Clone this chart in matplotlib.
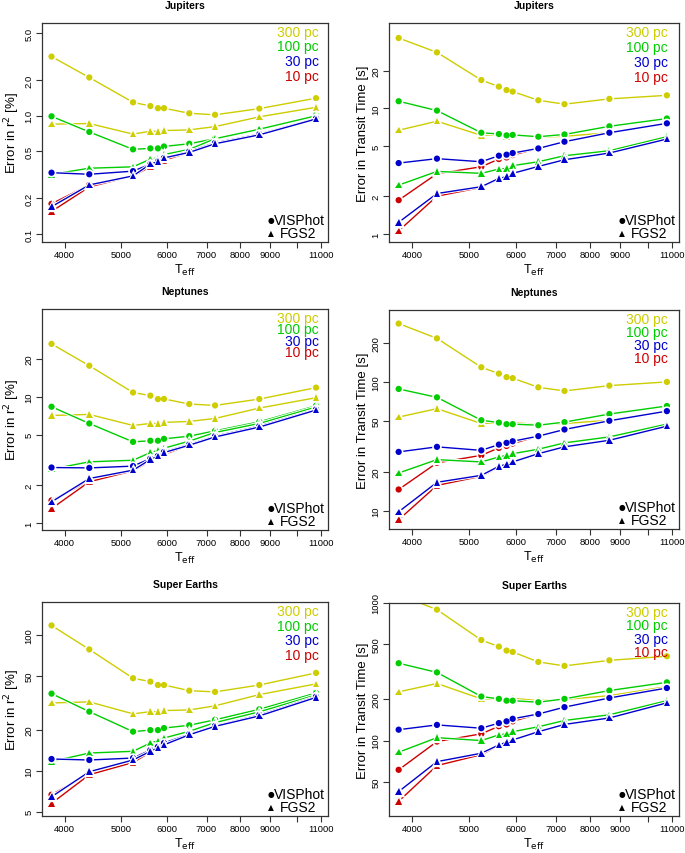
import numpy as np
import matplotlib
matplotlib.use("Agg")
import matplotlib.pyplot as plt
import matplotlib.patheffects as pe
from matplotlib.ticker import FixedLocator, NullLocator

plt.rcParams['font.family'] = ['Liberation Sans', 'DejaVu Sans']

# effective temperatures of the host stars
teff = [3800, 4410, 5240, 5610, 5780, 5920, 6540, 7240, 8620, 10780]

dist_labels = ['300 pc', '100 pc', '30 pc', '10 pc']
dist_colors = ['#CDCD00', '#00CD00', '#0000CD', '#CD0000']

x_ticks = [4000, 5000, 6000, 7000, 8000, 9000, 10000, 11000]
x_ticklabels = ['4000', '5000', '6000', '7000', '8000', '9000', '', '11000']

# rows: 300 pc, 100 pc, 30 pc, 10 pc
jup_r2_vis = [[3.17, 2.11, 1.30, 1.21, 1.16, 1.16, 1.05, 1.02, 1.15, 1.41],
              [0.99, 0.73, 0.52, 0.53, 0.53, 0.55, 0.58, 0.64, 0.76, 1.01],
              [0.33, 0.32, 0.34, 0.39, 0.41, 0.44, 0.50, 0.59, 0.70, 0.95],
              [0.18, 0.26, 0.31, 0.37, 0.40, 0.42, 0.50, 0.59, 0.70, 0.95]]
jup_r2_fgs = [[0.85, 0.86, 0.70, 0.74, 0.74, 0.75, 0.76, 0.81, 0.98, 1.18],
              [0.32, 0.36, 0.37, 0.43, 0.44, 0.47, 0.52, 0.64, 0.77, 1.00],
              [0.17, 0.26, 0.31, 0.39, 0.41, 0.44, 0.49, 0.58, 0.69, 0.94],
              [0.155, 0.25, 0.31, 0.37, 0.40, 0.42, 0.49, 0.58, 0.69, 0.94]]

jup_tt_vis = [[36.3, 27.9, 16.8, 14.9, 14.0, 13.6, 11.6, 10.8, 11.9, 12.7],
              [11.4, 9.6, 6.4, 6.25, 6.1, 6.15, 5.95, 6.2, 7.2, 8.3],
              [3.67, 3.98, 3.76, 4.2, 4.28, 4.41, 4.8, 5.43, 6.4, 7.6],
              [1.86, 3.02, 3.43, 3.95, 4.07, 4.25, 4.8, 5.43, 6.4, 7.6]]
jup_tt_fgs = [[6.7, 7.9, 6.1, 6.2, 6.0, 6.1, 5.9, 6.0, 6.4, 7.6],
              [2.45, 3.15, 3.04, 3.29, 3.33, 3.5, 3.76, 4.2, 4.6, 5.95],
              [1.24, 2.1, 2.38, 2.77, 2.86, 3.04, 3.45, 3.9, 4.41, 5.7],
              [1.06, 2.0, 2.35, 2.74, 2.86, 3.04, 3.45, 3.9, 4.41, 5.7]]

nep_r2_vis = [[26.2, 17.6, 10.8, 10.2, 9.58, 9.6, 8.75, 8.53, 9.58, 11.8],
              [8.33, 6.14, 4.39, 4.48, 4.48, 4.64, 4.87, 5.37, 6.33, 8.48],
              [2.75, 2.73, 2.82, 3.24, 3.40, 3.66, 4.19, 4.87, 5.85, 7.93],
              [1.51, 2.14, 2.62, 3.10, 3.30, 3.51, 4.19, 4.87, 5.85, 7.93]]
nep_r2_fgs = [[7.1, 7.24, 5.92, 6.14, 6.14, 6.26, 6.37, 6.73, 8.13, 9.82],
              [2.67, 3.05, 3.14, 3.61, 3.75, 3.91, 4.45, 5.21, 6.14, 8.28],
              [1.47, 2.25, 2.62, 3.18, 3.38, 3.61, 4.13, 4.8, 5.75, 7.84],
              [1.30, 2.12, 2.59, 3.09, 3.28, 3.49, 4.13, 4.8, 5.75, 7.84]]

nep_tt_vis = [[284, 218, 130, 116, 109, 107, 90.8, 85.1, 93.6, 100],
              [88.2, 75.9, 50.4, 48.3, 47.0, 47.0, 46.1, 48.7, 56.3, 65],
              [28.6, 31.3, 29.4, 32.6, 33.6, 34.6, 37.9, 42.7, 49.9, 59.3],
              [14.6, 23.5, 26.9, 30.7, 31.8, 33.2, 37.9, 42.7, 49.9, 59.3]]
nep_tt_fgs = [[53.3, 62.0, 47.5, 48.3, 48.0, 48.3, 46.7, 47.5, 50.4, 59.3],
              [19.6, 24.9, 23.9, 26.1, 26.9, 27.7, 30.0, 33.6, 37.4, 47.0],
              [9.8, 16.6, 18.8, 22.1, 22.9, 23.9, 27.7, 31.3, 35.2, 45.3],
              [8.5, 15.7, 18.5, 21.8, 22.9, 24.2, 27.7, 31.3, 35.2, 45.3]]

se_r2_vis = [[117, 78, 47.9, 45.2, 42.7, 42.7, 38.8, 38.0, 42.7, 52.4],
             [36.9, 27.2, 19.4, 19.9, 19.9, 20.6, 21.6, 23.7, 28.3, 37.3],
             [12.2, 12.0, 12.4, 14.2, 15.0, 16.0, 18.6, 21.4, 25.7, 35.1],
             [6.67, 9.6, 11.6, 13.8, 14.6, 15.5, 18.6, 21.4, 25.7, 35.1]]
se_r2_fgs = [[31.5, 32.1, 26.2, 27.2, 27.2, 27.7, 28.0, 30.0, 36.3, 43.5],
             [11.7, 13.5, 13.9, 16.0, 16.6, 17.4, 19.5, 22.6, 27.1, 36.1],
             [6.44, 9.84, 12.0, 13.9, 14.7, 15.5, 18.4, 21.2, 25.3, 34.6],
             [5.76, 9.35, 11.5, 13.7, 14.5, 15.4, 18.4, 21.2, 25.3, 34.6]]

se_tt_vis = [[1150, 895, 538, 482, 451, 441, 373, 349, 383, 410],
             [365, 313, 209, 201, 195, 195, 190, 201, 231, 265],
             [120, 130, 123, 134, 138, 144, 156, 175, 204, 241],
             [61.3, 98.4, 112, 127, 131, 138, 156, 175, 204, 241]]
se_tt_fgs = [[226, 260, 201, 201, 199, 203, 195, 199, 212, 247],
             [82.3, 105, 100, 110, 112, 116, 126, 140, 154, 195],
             [42.6, 70.3, 80.9, 93, 97.2, 101, 116, 131, 146, 188],
             [36.2, 65.8, 79, 92, 96, 102, 116, 131, 146, 188]]

r2_label = 'Error in r$^2$ [%]'
tt_label = 'Error in Transit Time [s]'

W, H = 685, 854
fig = plt.figure(figsize=(W / 100, H / 100), dpi=100)

# title, ylabel, vis, fgs, yticks, ylim, box in pixels (x0, y0, x1, y1), legend step px
panels = [
    ('Jupiters', r2_label, jup_r2_vis, jup_r2_fgs,
     [0.1, 0.2, 0.5, 1.0, 2.0, 5.0], ['0.1', '0.2', '0.5', '1.0', '2.0', '5.0'],
     (0.0855, 6.1), (42, 24, 328, 243), 14.5, 9),
    ('Jupiters', tt_label, jup_tt_vis, jup_tt_fgs,
     [1, 2, 5, 10, 20], None, (0.864, 47.8), (389, 24, 679, 243), 15, 11),
    ('Neptunes', r2_label, nep_r2_vis, nep_r2_fgs,
     [1, 2, 5, 10, 20], None, (0.88, 49.5), (42, 310, 328, 531), 11.5, 9),
    ('Neptunes', tt_label, nep_tt_vis, nep_tt_fgs,
     [10, 20, 50, 100, 200], None, (7.2, 362), (389, 311, 679, 530), 13, 11),
    ('Super Earths', r2_label, se_r2_vis, se_r2_fgs,
     [5, 10, 20, 50, 100], None, (4.65, 174), (42, 603, 328, 817), 14.7, 9),
    ('Super Earths', tt_label, se_tt_vis, se_tt_fgs,
     [50, 100, 200, 500, 1000], None, (28.3, 1000), (389, 604, 679, 817), 13.3, 11),
]

halo = [pe.Stroke(linewidth=2.4, foreground='white'), pe.Normal()]
draw_order = [3, 0, 1, 2]

for title, ylabel, vis, fgs, yt, ytl, ylim, box, step, inset in panels:
    x0, y0, x1, y1 = box
    ax = fig.add_axes([x0 / W, 1 - y1 / H, (x1 - x0) / W, (y1 - y0) / H])
    ax.set_xscale('log')
    ax.set_yscale('log')

    for i in draw_order:
        ax.plot(teff, vis[i], '-o', color=dist_colors[i], lw=1.0, ms=4.5,
                mew=0, path_effects=halo)
        ax.plot(teff, fgs[i], '-^', color=dist_colors[i], lw=1.0, ms=4.7,
                mew=0, path_effects=halo)

    ax.set_xlim(3660, 11300)
    ax.set_ylim(*ylim)
    ax.xaxis.set_major_locator(FixedLocator(x_ticks))
    ax.xaxis.set_minor_locator(NullLocator())
    ax.set_xticklabels(x_ticklabels)
    ax.yaxis.set_major_locator(FixedLocator(yt))
    ax.yaxis.set_minor_locator(NullLocator())
    ax.set_yticklabels(ytl if ytl else [str(v) for v in yt], rotation=90, va='center')
    ax.tick_params(direction='out', length=4, width=0.8, labelsize=6.8, pad=2,
                   color='#333333')
    for s in ax.spines.values():
        s.set_linewidth(0.9)
        s.set_color('#333333')

    ax.set_xlabel(r'T$_{\mathrm{eff}}$', fontsize=9, labelpad=1.5)
    ax.set_ylabel(ylabel, fontsize=9.5, labelpad=2)
    ax.set_title(title, fontsize=7.5, fontweight='bold', pad=11)

    # distance legend, top right
    for k, (lab, col) in enumerate(zip(dist_labels, dist_colors)):
        ax.annotate(lab, xy=(1, 1), xycoords='axes fraction',
                    xytext=(-inset * 0.72, -(9 + k * step) * 0.72),
                    textcoords='offset points', ha='right', va='center',
                    fontsize=10, color=col)

    # instrument legend, bottom right
    for sym, lab, dy, dx in [('●', 'VISPhot', 22, -54), ('▲', 'FGS2', 9, -48)]:
        ax.annotate(sym, xy=(1, 0), xycoords='axes fraction',
                    xytext=(-57 * 0.72, dy * 0.72), textcoords='offset points',
                    ha='center', va='center', fontsize=5.5, color='black',
                    family=['DejaVu Sans'])
        ax.annotate(lab, xy=(1, 0), xycoords='axes fraction',
                    xytext=(dx * 0.72, dy * 0.72), textcoords='offset points',
                    ha='left', va='center', fontsize=10, color='black')

fig.savefig('out.png', dpi=100)
